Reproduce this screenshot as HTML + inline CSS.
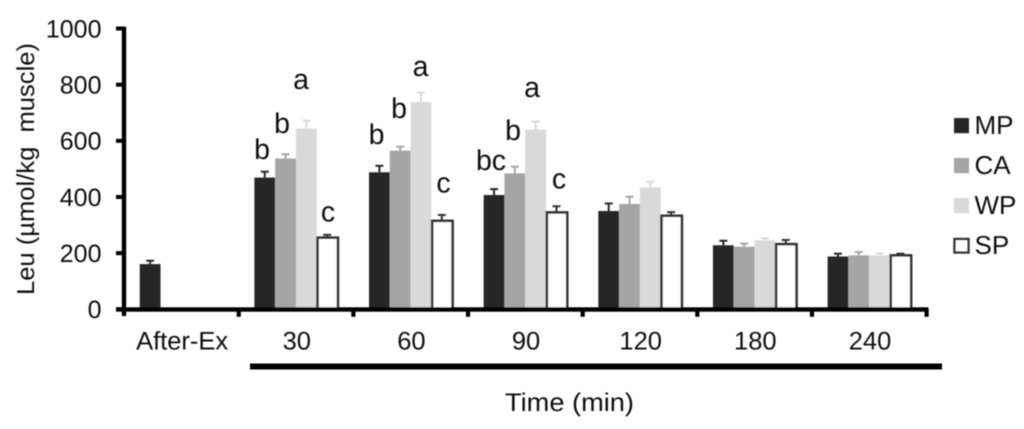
<!DOCTYPE html>
<html>
<head>
<meta charset="utf-8">
<title>Leu over time</title>
<style>
html,body{margin:0;padding:0;background:#fff;width:1024px;height:429px;overflow:hidden}
svg{display:block}
text{font-family:"Liberation Sans",sans-serif;fill:#111;white-space:pre;text-rendering:geometricPrecision}
</style>
</head>
<body>
<svg id="chart" xmlns="http://www.w3.org/2000/svg" width="1024" height="429" viewBox="0 0 1024 429">
<defs><filter id="soft" x="-5%" y="-5%" width="110%" height="110%"><feGaussianBlur stdDeviation="0.45"/></filter></defs>
<rect x="0" y="0" width="1024" height="429" fill="#fff"/>
<g id="root" filter="url(#soft)">
  <g id="bars"></g>
  <g id="axes"></g>
  <text transform="translate(34,295) rotate(-90)" font-size="24.5" textLength="252" lengthAdjust="spacingAndGlyphs">Leu (µmol/kg  muscle)</text>
  <text x="505" y="411" font-size="25.5" textLength="129" lengthAdjust="spacingAndGlyphs">Time (min)</text>
  <rect x="250" y="363.5" width="692" height="6" fill="#000"/>
  <g font-size="28.5" text-anchor="middle">
    <text x="262" y="159">b</text>
    <text x="282" y="133">b</text>
    <text x="301" y="89">a</text>
    <text x="328" y="221.5">c</text>
    <text x="376.5" y="144">b</text>
    <text x="399" y="118">b</text>
    <text x="420.5" y="76">a</text>
    <text x="443.5" y="192.5">c</text>
    <text x="491" y="170">bc</text>
    <text x="513" y="140">b</text>
    <text x="532" y="97">a</text>
    <text x="559" y="188.5">c</text>
  </g>
  <g id="legend"></g>
</g>
</svg>
<script>
var categories = ["After-Ex", "30", "60", "90", "120", "180", "240"];
var seriesNames = ["MP", "CA", "WP", "SP"];
var yTicks = [0, 200, 400, 600, 800, 1000];
var valuesMP = [161, 469, 488, 407, 350, 228, 188];
var valuesCA = [null, 537, 565, 484, 375, 223, 192];
var valuesWP = [null, 644, 738, 640, 434, 246, 192];
var valuesSP = [null, 255, 315, 345, 333, 232, 192];
var errorsMP = [12, 21, 23, 21, 27, 16, 10];
var errorsCA = [null, 15, 14, 24, 26, 11, 12];
var errorsWP = [null, 28, 33, 29, 20, 7, 7];
var errorsSP = [null, 10, 21, 22, 13, 15, 6];

var seriesValues = [valuesMP, valuesCA, valuesWP, valuesSP];
var seriesErrors = [errorsMP, errorsCA, errorsWP, errorsSP];
var seriesFill = ["#282828", "#a5a5a5", "#d9d9d9", "#ffffff"];
var seriesInk = ["#282828", "#a5a5a5", "#d9d9d9", "#333333"];

var NS = "http://www.w3.org/2000/svg";
var barsG = document.getElementById("bars");
var axesG = document.getElementById("axes");
var legendG = document.getElementById("legend");

var plotLeft = 124, plotRight = 926.5, y0 = 309.3, y1000 = 28.5;
var catW = (plotRight - plotLeft) / categories.length;
var barW = 20.8;
function yScale(v) { return y0 + (y1000 - y0) * v / 1000; }
function xCat(i) { return plotLeft + catW * i; }
function xBar(i, s) { return xCat(i) + (catW - barW * 4) / 2 + barW * s; }
function make(tag, parent) {
  var el = document.createElementNS(NS, tag);
  parent.appendChild(el);
  return el;
}
function setAll(el, props) {
  for (var k in props) { el.setAttribute(k, props[k]); }
}

seriesValues.forEach(function (vals, s) {
  vals.forEach(function (v, i) {
    if (v === null) { return; }
    var e = seriesErrors[s][i];
    var cx = xBar(i, s) + barW / 2;
    var top = yScale(v + e);
    var stem = make("line", barsG);
    
    
    setAll(stem, { x1: cx, x2: cx, y1: yScale(v), y2: top, stroke: seriesInk[s], "stroke-width": 2 });
    var cap = make("line", barsG);
    
    
    setAll(cap, { x1: cx - 4, x2: cx + 4, y1: top, y2: top, stroke: seriesInk[s], "stroke-width": 2 });
    var bar = make("rect", barsG);
    
    
    if (s === 3) {
      setAll(bar, { x: xBar(i, s) + 0.8, y: yScale(v), width: barW - 0.4, height: y0 - yScale(v), fill: seriesFill[s], stroke: seriesInk[s], "stroke-width": 2.6 });
    } else {
      setAll(bar, { x: xBar(i, s), y: yScale(v), width: barW, height: y0 - yScale(v), fill: seriesFill[s] });
    }
  });
});

var yAxisLine = make("rect", axesG);


setAll(yAxisLine, { x: plotLeft - 2.2, y: y1000 - 1.8, width: 4.4, height: y0 - y1000 + 8.5, fill: "#000" });

var xAxisLine = make("rect", axesG);


setAll(xAxisLine, { x: 116, y: y0 - 2, width: plotRight - 116 + 2, height: 4.4, fill: "#000" });

yTicks.forEach(function (t) {
  var tick = make("rect", axesG);
  
  
  setAll(tick, { x: 116, y: yScale(t) - 2, width: 8, height: 4, fill: "#000" });
  var label = make("text", axesG);
  
  
  setAll(label, { x: 101.5, y: yScale(t) + 8.8, "font-size": 25, "text-anchor": "end" });
  label.textContent = String(t);
});

categories.forEach(function (c, i) {
  var tick = make("rect", axesG);
  
  
  setAll(tick, { x: xCat(i + 1) - 2, y: y0, width: 4.2, height: 7.5, fill: "#000" });
  var label = make("text", axesG);
  
  
  setAll(label, { x: xCat(i) + catW / 2 + 0.8, y: 349.5, "font-size": 25.5, "text-anchor": "middle" });
  label.textContent = c;
});

seriesNames.forEach(function (name, s) {
  var rowY = 118 + s * 40;
  var swatch = make("rect", legendG);
  
  
  if (s === 3) {
    setAll(swatch, { x: 954.5, y: rowY + 1, width: 14, height: 13.5, fill: "#fff", stroke: seriesInk[s], "stroke-width": 2.4 });
  } else {
    setAll(swatch, { x: 954, y: rowY, width: 15, height: 15.2, fill: seriesFill[s] });
  }
  var label = make("text", legendG);
  
  
  setAll(label, { x: 974.5, y: rowY + 16, "font-size": 26 });
  label.textContent = name;
});
</script>
</body>
</html>
